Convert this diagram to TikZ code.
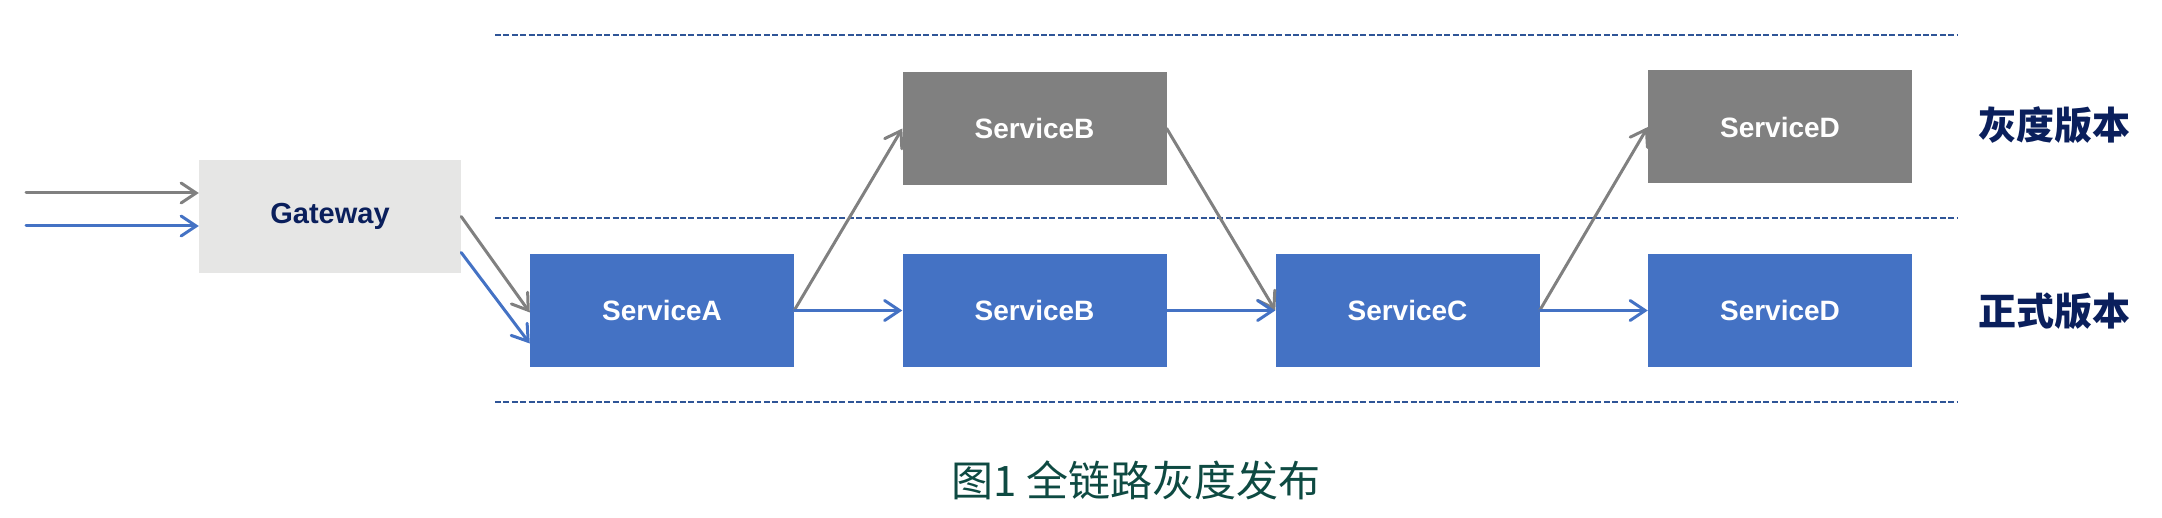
\documentclass[tikz,border=0pt]{standalone}
\usepackage{fontspec}
\setmainfont{Liberation Sans}
\newfontfamily\cjk{Noto Sans CJK SC}
\usetikzlibrary{arrows.meta}
\definecolor{sblue}{HTML}{4472C4}
\definecolor{sgray}{HTML}{808080}
\definecolor{gwfill}{HTML}{E6E6E5}
\definecolor{navy}{HTML}{0A1F5C}
\definecolor{dashc}{HTML}{2F5597}
\definecolor{capc}{HTML}{0E4A42}
\tikzset{
  svc/.style={minimum width=264pt, minimum height=113pt, inner sep=0pt, text=white,
    font=\fontsize{28}{32}\selectfont\bfseries},
  bluebox/.style={svc, fill=sblue},
  graybox/.style={svc, fill=sgray},
  gwbox/.style={minimum width=262pt, minimum height=113pt, inner sep=0pt, fill=gwfill,
    text=navy, font=\fontsize{29}{32}\selectfont\bfseries},
  conn/.style={line width=3pt, line cap=round,
    -{Straight Barb[length=15pt,width=20pt,line cap=round]}},
  bconn/.style={conn, draw=sblue},
  gconn/.style={conn, draw=sgray},
  sep/.style={draw=dashc, line width=1.6pt, dash pattern=on 6pt off 2.4pt},
  lab/.style={text=navy, font=\cjk\bfseries\fontsize{38}{42}\selectfont, inner sep=0pt},
}
\begin{document}
\begin{tikzpicture}[x=1pt,y=-1pt]
\useasboundingbox (0,0) rectangle (2162,518);
% separators
\coordinate (s1a) at (495,35);  \coordinate (s1b) at (1957,35);
\coordinate (s2a) at (495,218); \coordinate (s2b) at (1957,218);
\coordinate (s3a) at (495,402); \coordinate (s3b) at (1957,402);
\draw[sep] (s1a) -- (s1b);
\draw[sep] (s2a) -- (s2b);
\draw[sep] (s3a) -- (s3b);
% nodes
\node[gwbox] (gw) at (330,216.5) {Gateway};
\node[bluebox] (a) at (662,310.5) {ServiceA};
\node[graybox] (bg) at (1034.5,128.5) {ServiceB};
\node[bluebox] (b) at (1034.5,310.5) {ServiceB};
\node[bluebox] (c) at (1407.5,310.5) {ServiceC};
\node[graybox] (dg) at (1780,127) {ServiceD};
\node[bluebox] (d) at (1780,310.5) {ServiceD};
\node[lab, anchor=west] (l1) at (1978,125) {灰度版本};
\node[lab, anchor=west] (l2) at (1978,311) {正式版本};
\node[text=capc, font=\cjk\fontsize{42}{46}\selectfont, inner sep=0pt] (cap) at (1136,480) {图1 全链路灰度发布};
% inputs
\coordinate (ing) at (26,193);
\coordinate (inb) at (26,226);
\draw[gconn] (ing) -- (ing -| gw.west);
\draw[bconn] (inb) -- (inb -| gw.west);
% gateway to A
\draw[gconn] (gw.east) -- ([yshift=-2pt]a.west);
\draw[bconn] ([yshift=-36pt]gw.east) -- ([yshift=-33pt]a.west);
% gray path
\draw[gconn] (a.east) -- (bg.west);
\draw[gconn] (bg.east) -- (c.west);
\draw[gconn] (c.east) -- (dg.west);
% blue path
\draw[bconn] (a.east) -- (b.west);
\draw[bconn] (b.east) -- (c.west);
\draw[bconn] (c.east) -- (d.west);
\end{tikzpicture}
\end{document}
